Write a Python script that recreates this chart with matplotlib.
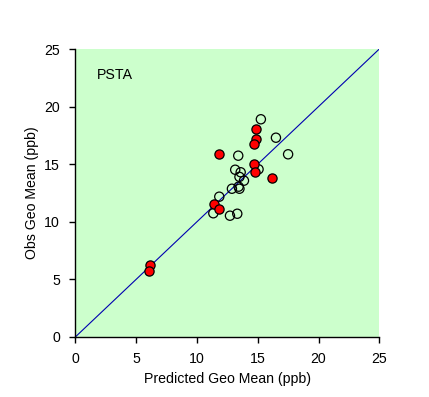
import matplotlib
matplotlib.use("Agg")
import matplotlib.pyplot as plt

plt.rcParams['font.family'] = ['Liberation Sans', 'DejaVu Sans']

# Open-circle series (predicted, observed)
open_x = [15.26, 16.5, 17.5, 13.4, 15.07, 13.15, 13.6, 13.5, 13.87, 13.43, 12.88, 13.5, 11.84, 11.35, 12.72, 13.32]
open_y = [18.9, 17.3, 15.86, 15.74, 14.56, 14.52, 14.3, 13.9, 13.57, 13.05, 12.87, 12.87, 12.18, 10.74, 10.53, 10.70]

# Red filled series
red_x = [14.88, 14.9, 14.71, 11.84, 14.71, 14.8, 16.16, 11.43, 11.84, 6.16, 6.02]
red_y = [18.06, 17.2, 16.78, 15.86, 14.99, 14.35, 13.8, 11.55, 11.09, 6.28, 5.73]

ticks = [0, 5, 10, 15, 20, 25]
one_to_one = [0, 25]

fig = plt.figure(figsize=(4.29, 3.97), dpi=100)
ax = fig.add_axes([75.3/429, 60/397, 304/429, 288/397])
ax.set_facecolor('#CCFFCC')
ax.plot(one_to_one, one_to_one, color='#0000B0', lw=0.8, zorder=2)
ax.scatter(open_x, open_y, s=44, facecolors='none', edgecolors='black', linewidths=0.9, zorder=3)
ax.scatter(red_x, red_y, s=44, facecolors='#FF0000', edgecolors='black', linewidths=0.9, zorder=4)
ax.set_xlim(0, 25)
ax.set_ylim(0, 25)
ax.set_xticks(ticks)
ax.set_yticks(ticks)
ax.spines['top'].set_visible(False)
ax.spines['right'].set_visible(False)
ax.spines['left'].set_linewidth(1.0)
ax.spines['bottom'].set_linewidth(1.0)
ax.tick_params(direction='out', length=4, width=1.0, labelsize=10.2, pad=7)
ax.set_xlabel('Predicted Geo Mean (ppb)', fontsize=10.2, labelpad=4)
ax.set_ylabel('Obs Geo Mean (ppb)', fontsize=10.2, labelpad=4)
ax.text(1.76, 22.74, 'PSTA', fontsize=10.2, va='center', ha='left')
fig.savefig('out.png', dpi=100)
